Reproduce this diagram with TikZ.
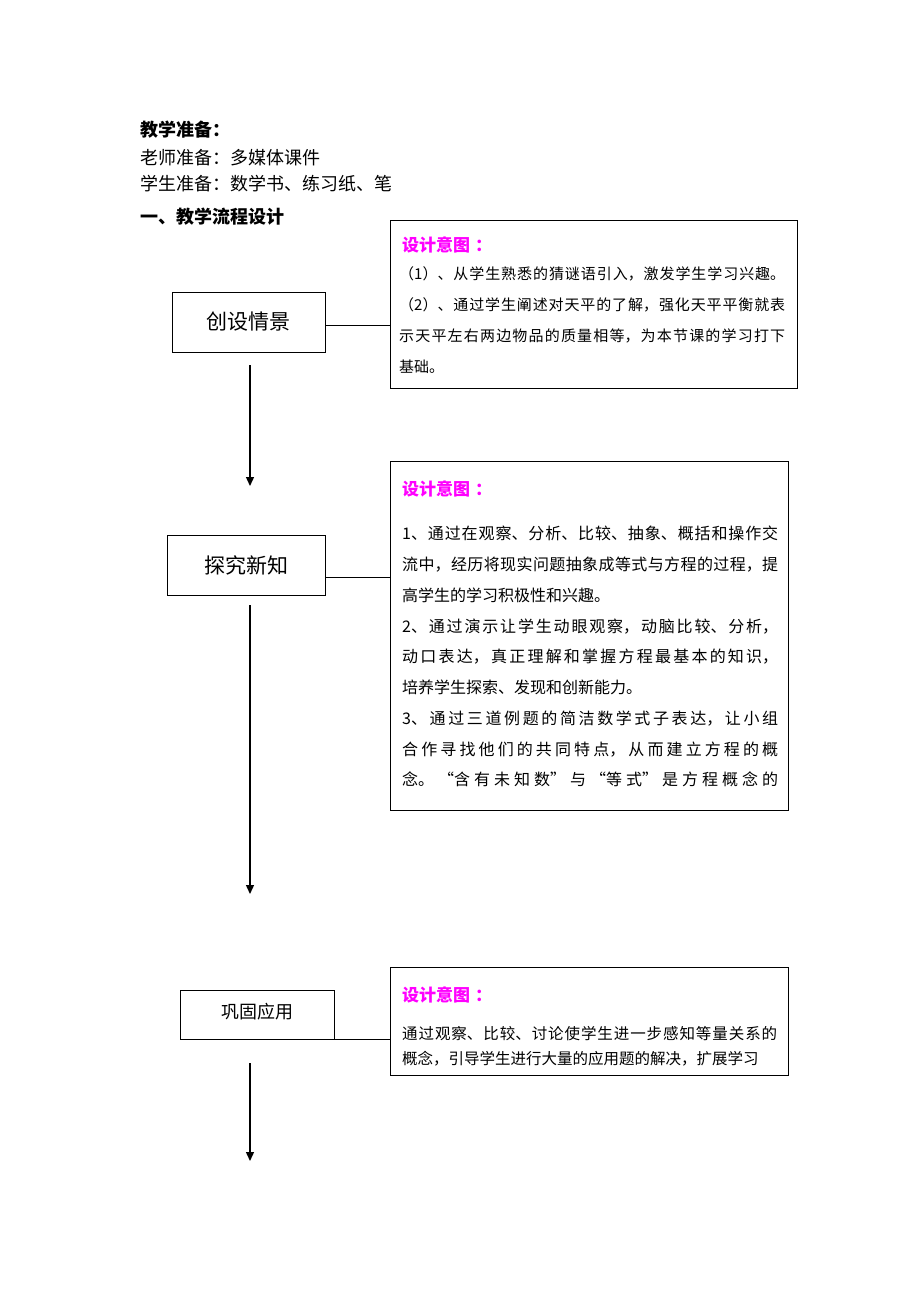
\documentclass[tikz,border=0pt]{standalone}
\usepackage{fontspec}
\setmainfont{Noto Sans CJK SC}
\usepackage{xcolor}
\usetikzlibrary{arrows.meta,positioning,calc}
\definecolor{aimpink}{RGB}{255,0,255}
\XeTeXlinebreaklocale "zh"
\XeTeXlinebreakskip=0pt plus 4pt

\begin{document}
\begin{tikzpicture}[x=1pt,y=-1pt,
    stepbox/.style={draw, line width=1pt, inner sep=0pt},
    aimbox/.style={draw, line width=1pt, inner sep=0pt},
    aimtitle/.style={anchor=west, inner sep=0pt, text=aimpink, font=\fontsize{17}{17}\selectfont\bfseries},
    aimtext/.style={anchor=north west, inner sep=0pt, align=justify},
    headline/.style={anchor=west, inner sep=0pt, font=\fontsize{18}{18}\selectfont},
    flow/.style={line width=1.3pt, -{Triangle[length=9pt,width=8pt]}},
    link/.style={line width=1pt}]
				\useasboundingbox (0,0) rectangle (920,1302);
				
				% Preparation lines at the top
				\node[headline, font=\fontsize{18}{18}\selectfont\bfseries] (prep) at (140,130) {教学准备：};
				\node[headline] (teacher) at (140,158) {老师准备：多媒体课件};
				\node[headline] (student) at (140,184) {学生准备：数学书、练习纸、笔};
				\node[headline, font=\fontsize{18}{18}\selectfont\bfseries] (design) at (140,217) {一、教学流程设计};
				
				% Teaching steps
				\node[stepbox, minimum width=153pt, minimum height=60pt, font=\fontsize{21}{21}\selectfont] (intro) at (248.5,322) {创设情景};
				\node[stepbox, minimum width=158pt, minimum height=60pt, font=\fontsize{21}{21}\selectfont] (explore) at (246,565) {探究新知};
				\node[stepbox, minimum width=154pt, minimum height=49pt, font=\fontsize{18}{18}\selectfont] (apply) at (257,1014.5) {\raisebox{7pt}{巩固应用}};
				
				% Design intention boxes
				\node[aimbox, minimum width=407pt, minimum height=168pt] (aim1) at (593.5,304) {};
				\node[aimbox, minimum width=398pt, minimum height=349pt] (aim2) at (589,635.5) {};
				\node[aimbox, minimum width=398pt, minimum height=108pt] (aim3) at (589,1021) {};
				
				% Texts inside the boxes
				\node[aimtitle] (title1) at (402,245) {设计意图\hspace{5pt}：};
				\node[aimtext, text width=386pt, font=\fontsize{15}{31.3}\selectfont] (text1) at (399,266) {%
					{\parfillskip=0pt （1）、从学生熟悉的猜谜语引入，激发学生学习兴趣。\par}
					（2）、通过学生阐述对天平的了解，强化天平平衡就表\linebreak
					示天平左右两边物品的质量相等，为本节课的学习打下\linebreak
					基础。};
				\node[aimtitle] (title2) at (402,489) {设计意图\hspace{5pt}：};
				\node[aimtext, text width=376pt, font=\fontsize{16}{30.75}\selectfont] (text2) at (402,526) {%
					1、通过在观察、分析、比较、抽象、概括和操作交\linebreak
					流中，经历将现实问题抽象成等式与方程的过程，提\linebreak
					高学生的学习积极性和兴趣。\par
					2、通过演示让学生动眼观察，动脑比较、分析，\linebreak
					动口表达，真正理解和掌握方程最基本的知识，\linebreak
					培养学生探索、发现和创新能力。\par
					{\parfillskip=0pt
					3、通过三道例题的简洁数学式子表达，让小组\linebreak
					合作寻找他们的共同特点，从而建立方程的概\linebreak
					念。“含有未知数”与“等式”是方程概念的\par}};
				\node[aimtitle] (title3) at (402,995) {设计意图\hspace{5pt}：};
				\node[aimtext, text width=375pt, font=\fontsize{15.5}{25.5}\selectfont] (text3) at (402,1026) {%
					通过观察、比较、讨论使学生进一步感知等量关系的\linebreak
					概念，引导学生进行大量的应用题的解决，扩展学习};
				
				% Connections between steps and boxes
				\draw[link] ([yshift=-3pt]intro.east) -- ([yshift=-3pt]intro.east -| aim1.west);
				\draw[link] ([yshift=-12pt]explore.east) -- ([yshift=-12pt]explore.east -| aim2.west);
				\draw[link] (apply.south east) -- (apply.south east -| aim3.west);
				
				% Flow arrows
				\coordinate (from1) at (250,365);
				\coordinate (to1) at (250,486);
				\coordinate (from2) at (250,605);
				\coordinate (to2) at (250,894);
				\coordinate (from3) at (250,1063);
				\coordinate (to3) at (250,1161);
				\draw[flow] (from1) -- (to1);
				\draw[flow] (from2) -- (to2);
				\draw[flow] (from3) -- (to3);
			\end{tikzpicture}
\end{document}
